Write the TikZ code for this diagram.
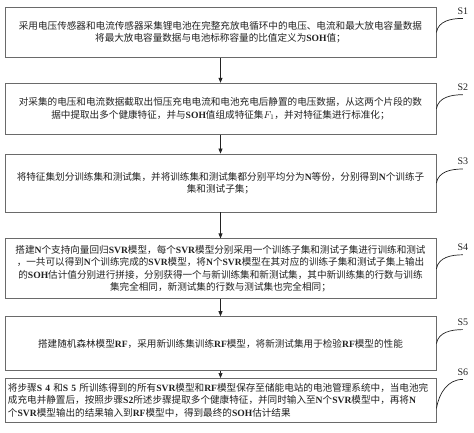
\documentclass[tikz,border=0pt]{standalone}
\usepackage{fontspec}
\setmainfont{Noto Sans CJK SC}
\newfontfamily\enfont{Liberation Serif}
\usetikzlibrary{arrows.meta,positioning}
\definecolor{frame}{HTML}{6A6A6A}
\definecolor{ink}{HTML}{222222}
\newcommand{\en}[1]{{\enfont\bfseries #1}}

\begin{document}
\begin{tikzpicture}[
          x=1pt, y=1pt,
          box/.style = {draw=frame, line width=0.8pt, text width=425pt,
                        inner xsep=3pt, inner ysep=2pt, align=center,
                        font=\fontsize{9.6}{12.3}\selectfont, text=ink},
          arr/.style = {-{Triangle[length=5pt,width=4pt]}, line width=0.7pt, draw=ink},
          tag/.style = {line width=0.7pt, draw=ink},
          lbl/.style = {font=\enfont\fontsize{10}{12}\selectfont, text=ink, inner sep=1pt},
        ]
        \useasboundingbox (0,0) rectangle (474,-433);

        \node[box, minimum height=50pt, anchor=north] (s1) at (220.5,-7)
          {采用电压传感器和电流传感器采集锂电池在完整充放电循环中的电压、电流和最大放电容量数据\\
           将最大放电容量数据与电池标称容量的比值定义为\en{SOH}值；};
        \node[box, minimum height=51pt, below=25pt of s1] (s2)
          {对采集的电压和电流数据截取出恒压充电电流和电池充电后静置的电压数据，从这两个片段的数\\
           据中提取出多个健康特征，并与\en{SOH}值组成特征集$F_1$，并对特征集进行标准化；};
        \node[box, minimum height=58pt, below=19pt of s2] (s3)
          {将特征集划分训练集和测试集，并将训练集和测试集都分别平均分为\en{N}等份，分别得到\en{N}个训练子\\
           集和测试子集；};
        \node[box, minimum height=60pt, below=26pt of s3] (s4)
          {搭建\en{N}个支持向量回归\en{SVR}模型，每个\en{SVR}模型分别采用一个训练子集和测试子集进行训练和测试\\
           ，一共可以得到\en{N}个训练完成的\en{SVR}模型，将\en{N}个\en{SVR}模型在其对应的训练子集和测试子集上输出\\
           的\en{SOH}估计值分别进行拼接，分别获得一个与新训练集和新测试集，其中新训练集的行数与训练\\
           集完全相同，新测试集的行数与测试集也完全相同；};
        \node[box, minimum height=54pt, below=17pt of s4] (s5)
          {搭建随机森林模型\en{RF}，采用新训练集训练\en{RF}模型，将新测试集用于检验\en{RF}模型的性能};
        \node[box, minimum height=44pt, align=left, below=7pt of s5] (s6)
          {将步骤\en{S 4} 和\en{S 5} 所训练得到的所有\en{SVR}模型和\en{RF}模型保存至储能电站的电池管理系统中，当电池完\\
           成充电并静置后，按照步骤\en{S2}所述步骤提取多个健康特征，并同时输入至\en{N}个\en{SVR}模型中，再将\en{N}\\
           个\en{SVR}模型输出的结果输入到\en{RF}模型中，得到最终的\en{SOH}估计结果};

        % step labels
        \node[lbl, above right=17pt and 20pt of s1.east] (t1) {S1};
        \node[lbl, above right=17pt and 20pt of s2.east] (t2) {S2};
        \node[lbl, above right=17pt and 20pt of s3.east] (t3) {S3};
        \node[lbl, above right=17pt and 20pt of s4.east] (t4) {S4};
        \node[lbl, above right=17pt and 20pt of s5.east] (t5) {S5};
        \node[lbl, above right=24pt and 20pt of s6.east] (t6) {S6};

        \draw[arr] (s1) -- (s2);
        \draw[arr] (s2) -- (s3);
        \draw[arr] (s3) -- (s4);
        \draw[arr] (s4) -- (s5);
        \draw[arr] (s5) -- (s6);

        \draw[tag] (s1.east) to[out=80,in=180] ([yshift=-3pt]t1.south);
        \draw[tag] (s2.east) to[out=80,in=180] ([yshift=-3pt]t2.south);
        \draw[tag] (s3.east) to[out=80,in=180] ([yshift=-3pt]t3.south);
        \draw[tag] (s4.east) to[out=80,in=180] ([yshift=-3pt]t4.south);
        \draw[tag] (s5.east) to[out=80,in=180] ([yshift=-3pt]t5.south);
        \draw[tag] ([yshift=-8pt]s6.east) to[out=80,in=180] ([yshift=-3pt]t6.south);
      \end{tikzpicture}
\end{document}
